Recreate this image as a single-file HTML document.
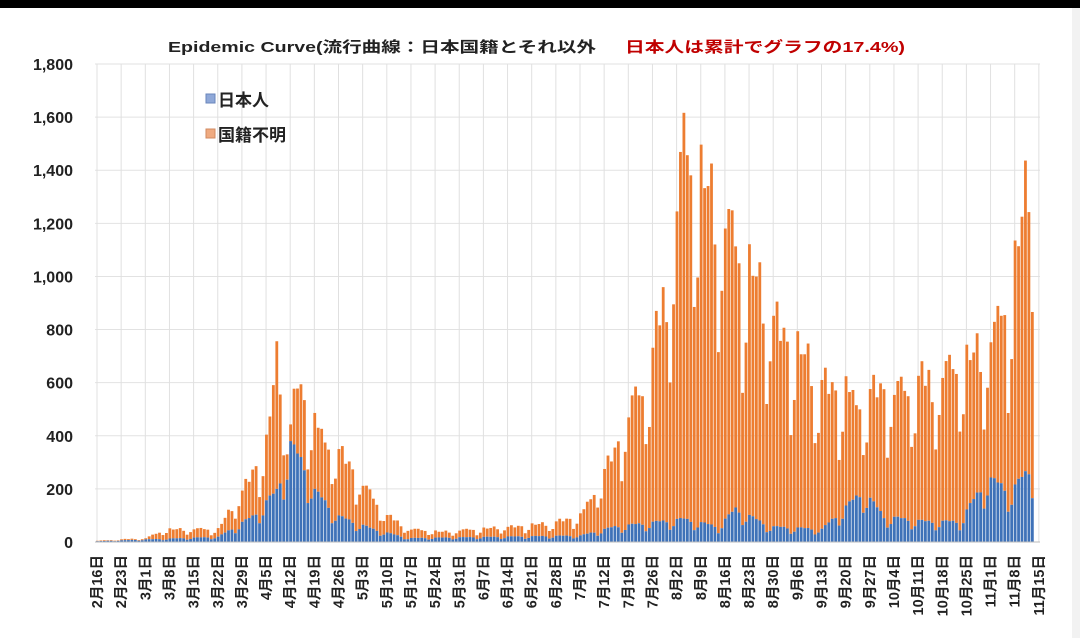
<!DOCTYPE html>
<html><head><meta charset="utf-8"><style>
html,body{margin:0;padding:0;background:#fff;}
body{width:1080px;height:638px;overflow:hidden;position:relative;}
svg text{font-family:"Liberation Sans","Noto Sans CJK JP",sans-serif;font-weight:bold;}
</style></head><body>
<svg id="s" width="1080" height="638" xmlns="http://www.w3.org/2000/svg">
<rect x="0" y="0" width="1080" height="638" fill="#fff"/>
<rect x="0" y="0" width="1080" height="8" fill="#000"/>
<rect x="1072" y="8" width="8" height="630" fill="#f2f2f2"/>
<g id="grid"></g>
<g id="bars"></g>
<line x1="95" y1="542" x2="1040" y2="542" stroke="#bbb" stroke-width="1"/>
<text x="168" y="52" font-size="15" fill="#222" textLength="428" lengthAdjust="spacingAndGlyphs">Epidemic Curve(流行曲線：日本国籍とそれ以外</text>
<text x="625" y="52" font-size="15" fill="#c00000" textLength="280" lengthAdjust="spacingAndGlyphs">日本人は累計でグラフの17.4%)</text>
<rect x="206" y="94" width="9" height="9" fill="#8fa8d8" stroke="#6a86bb"/>
<text x="218" y="106" font-size="17" fill="#222">日本人</text>
<rect x="206" y="129" width="9" height="9" fill="#efaa80" stroke="#d08a60"/>
<text x="218" y="141" font-size="17" fill="#222">国籍不明</text>
<g id="ylab" font-size="16" fill="#222" text-anchor="end"></g>
<g id="xlab" font-size="14.5" fill="#222"></g>
</svg>
<script>
var NS="http://www.w3.org/2000/svg";
function el(t,a,p,txt){var e=document.createElementNS(NS,t);for(var k in a)e.setAttribute(k,a[k]);if(txt)e.textContent=txt;document.getElementById(p).appendChild(e);return e;}
var x0=95,y0=542,ppu=(542-64)/1800,dd=3.45;
for(var i=0;i<=9;i++){var y=y0-i*200*ppu;el('line',{x1:95,y1:y,x2:1040,y2:y,stroke:'#e2e2e2'},'grid');
el('text',{x:73,y:y+6},'ylab',i==0?'0':(i*200).toLocaleString('en-US'));}
var labels=["2月16日","2月23日","3月1日","3月8日","3月15日","3月22日","3月29日","4月5日","4月12日","4月19日","4月26日","5月3日","5月10日","5月17日","5月24日","5月31日","6月7日","6月14日","6月21日","6月28日","7月5日","7月12日","7月19日","7月26日","8月2日","8月9日","8月16日","8月23日","8月30日","9月6日","9月13日","9月20日","9月27日","10月4日","10月11日","10月18日","10月25日","11月1日","11月8日","11月15日"];
for(var w=0;w<labels.length;w++){var x=x0+2+w*7*dd;
el('line',{x1:x,y1:64,x2:x,y2:542,stroke:'#e0e0e0'},'grid');
el('text',{x:0,y:0,transform:'translate('+(x+5)+',555) rotate(-90)','text-anchor':'end'},'xlab',labels[w]);}
var T=[[0,5],[14,15],[20,50],[35,50],[42,200],[49,380],[52,700],[56,450],[58,630],[63,450],[70,350],[77,230],[84,100],[91,50],[100,40],[130,70],[140,100],[150,350],[155,550],[160,650],[165,1000],[170,1550],[175,1450],[180,1300],[185,1150],[190,1050],[195,900],[200,800],[210,620],[220,560],[230,600],[240,620],[250,700],[260,800],[265,1000],[268,1250],[271,1550]];
var J=[[0,3],[35,20],[45,100],[52,200],[56,380],[60,300],[63,200],[70,100],[80,50],[90,15],[140,25],[150,60],[170,90],[180,60],[185,130],[195,60],[210,50],[222,200],[228,100],[240,80],[250,80],[258,250],[265,200],[271,300]];
function itp(A,d){for(var i=0;i<A.length-1;i++){if(d<=A[i+1][0]){var t=(d-A[i][0])/(A[i+1][0]-A[i][0]);return A[i][1]+t*(A[i+1][1]-A[i][1]);}}return A[A.length-1][1];}
var mod=[1,1.02,0.98,1.0,0.9,0.55,0.7];
for(var d=0;d<=271;d++){var m=mod[d%7];var t=itp(T,d)*m*(0.92+0.16*((d*37)%11)/10);var j=Math.min(itp(J,d)*m,t);
var x=x0+1+d*dd;var ht=t*ppu,hj=j*ppu;
el('rect',{x:x,y:y0-ht,width:2.8,height:ht-hj,fill:'#ed7d31'},'bars');
el('rect',{x:x,y:y0-hj,width:2.8,height:hj,fill:'#3f72b8'},'bars');}
</script>
</body></html>
